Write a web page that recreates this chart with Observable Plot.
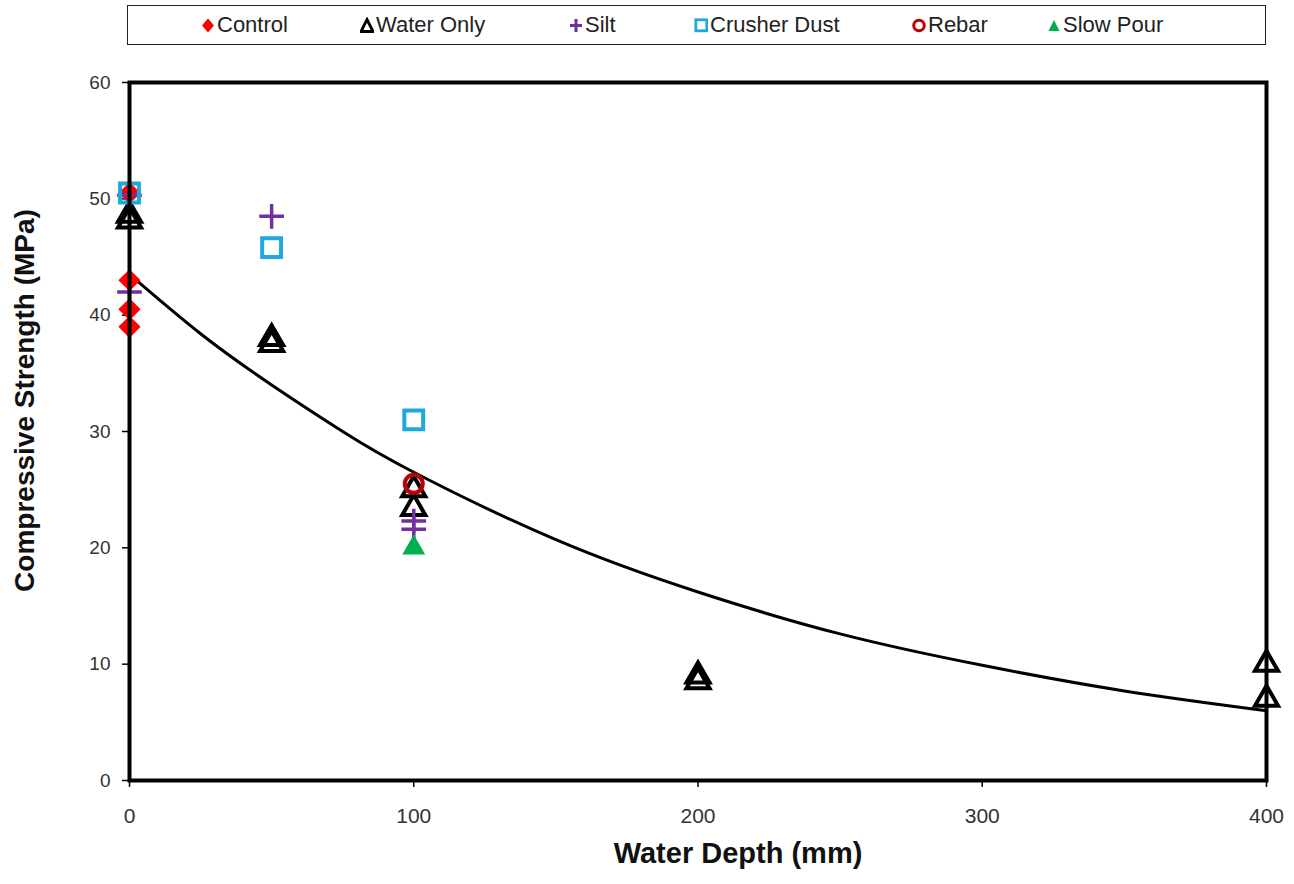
<!DOCTYPE html>
<html>
<head>
<meta charset="utf-8">
<script src="https://cdn.jsdelivr.net/npm/d3@7"></script>
<script src="https://cdn.jsdelivr.net/npm/@observablehq/plot@0.6"></script>
<style>
  html, body { margin: 0; padding: 0; background: #fff; }
  body { width: 1294px; height: 884px; position: relative; overflow: hidden; font-family: "Liberation Sans", Arial, sans-serif; }
  #legend { position: absolute; left: 127px; top: 5px; width: 1137px; height: 38px; border: 1.5px solid #222; box-sizing: content-box; }
  .item { position: absolute; top: 0; height: 38px; display: flex; align-items: center; font-size: 22px; color: #222; font-family: "Liberation Sans", Arial, sans-serif; }
  .item svg { margin-right: 2px; }
  #chart { position: absolute; left: 0; top: 50px; }
</style>
</head>
<body>
<div id="legend"></div>
<div id="chart"></div>
<script>
// ---- data ----
const seriesNames = ["Control", "Water Only", "Silt", "Crusher Dust", "Rebar", "Slow Pour"];

const controlDepth = [0, 0, 0, 0];
const controlStrength = [50.5, 43, 40.5, 39];

const waterDepth = [0, 0, 50, 50, 100, 100, 200, 200, 400, 400];
const waterStrength = [48.6, 48.1, 38, 37.5, 25, 23.4, 9, 8.5, 10, 7];

const siltDepth = [0, 0, 50, 100, 100];
const siltStrength = [50.3, 42, 48.5, 22.3, 21.6];

const dustDepth = [0, 50, 100];
const dustStrength = [50.5, 45.8, 31];

const rebarDepth = [100];
const rebarStrength = [25.5];

const slowDepth = [100];
const slowStrength = [20];

// trendline
const trendDepth = [0, 25, 50, 75, 100, 150, 200, 250, 300, 350, 400];
const trendStrength = [43.5, 38.4, 34, 30, 26.5, 20.7, 16.2, 12.6, 9.9, 7.7, 6.0];

const xTicks = [0, 100, 200, 300, 400];
const yTicks = [0, 10, 20, 30, 40, 50, 60];

// ---- build tables ----
const zip = (xs, ys) => xs.map((x, i) => ({x, y: ys[i]}));
const control = zip(controlDepth, controlStrength);
const water = zip(waterDepth, waterStrength);
const silt = zip(siltDepth, siltStrength);
const dust = zip(dustDepth, dustStrength);
const rebar = zip(rebarDepth, rebarStrength);
const slow = zip(slowDepth, slowStrength);
const trend = zip(trendDepth, trendStrength);

const colors = {
  control: "#ff0000",
  water: "#000000",
  silt: "#7030a0",
  dust: "#1fa8dc",
  rebar: "#c00000",
  slow: "#00b050"
};

const chart = Plot.plot({
  width: 1294,
  height: 834,
  marginLeft: 129,
  marginRight: 28,
  marginTop: 32,
  marginBottom: 104,
  style: { fontFamily: "Liberation Sans, Arial, sans-serif", background: "#fff" },
  x: { domain: [0, 400] },
  y: { domain: [0, 60] },
  marks: [
    Plot.axisY({ ticks: yTicks, tickSize: 7, tickPadding: 12, fontSize: 19, stroke: "#000", strokeWidth: 1.5, color: "#333", label: null }),
    Plot.axisX({ ticks: xTicks, tickSize: 7, tickPadding: 21, fontSize: 21, stroke: "#000", strokeWidth: 1.5, color: "#333", label: null }),
    Plot.line(trend, { x: "x", y: "y", curve: "natural", stroke: "#000", strokeWidth: 3 }),
    Plot.dot(control, { x: "x", y: "y", symbol: "diamond2", r: 10, fill: colors.control, stroke: "none" }),
    Plot.dot(water, { x: "x", y: "y", symbol: "triangle2", r: 11, stroke: colors.water, strokeWidth: 4, fill: "none" }),
    Plot.dot(silt, { x: "x", y: "y", symbol: "plus", r: 8, stroke: colors.silt, strokeWidth: 3.5, fill: "none" }),
    Plot.dot(dust, { x: "x", y: "y", symbol: "square2", r: 12, stroke: colors.dust, strokeWidth: 4, fill: "none" }),
    Plot.dot(rebar, { x: "x", y: "y", symbol: "circle", r: 9, stroke: colors.rebar, strokeWidth: 4, fill: "none" }),
    Plot.dot(slow, { x: "x", y: "y", symbol: "triangle", r: 8.5, fill: colors.slow, stroke: "none" }),
    Plot.frame({ stroke: "#000", strokeWidth: 4 }),
    Plot.text(["Water Depth (mm)"], { frameAnchor: "bottom", dx: 40, dy: 82, fontSize: 29, fontWeight: "bold", fill: "#111" }),
    Plot.text(["Compressive Strength (MPa)"], { frameAnchor: "left", textAnchor: "middle", dx: -104, dy: -31, rotate: -90, fontSize: 28, fontWeight: "bold", fill: "#111" })
  ]
});
document.getElementById("chart").appendChild(chart);

// ---- legend ----
const legendItems = [
  { name: seriesNames[0], left: 200, sym: '<path d="M7 1.5 L13 8.5 L7 15.5 L1 8.5 Z" fill="#ff0000"/>' },
  { name: seriesNames[1], left: 359, sym: '<path d="M7 2.5 L13 14.5 L1 14.5 Z" fill="none" stroke="#000" stroke-width="2.8"/>' },
  { name: seriesNames[2], left: 568, sym: '<path d="M7 2 V15 M1 8.5 H13" stroke="#7030a0" stroke-width="3"/>' },
  { name: seriesNames[3], left: 693, sym: '<rect x="1.8" y="2.8" width="11" height="11" fill="none" stroke="#1fa8dc" stroke-width="2.8"/>' },
  { name: seriesNames[4], left: 911, sym: '<circle cx="7" cy="8.5" r="5.3" fill="none" stroke="#c00000" stroke-width="3"/>' },
  { name: seriesNames[5], left: 1046, sym: '<path d="M7 3 L12.5 14 L1.5 14 Z" fill="#00b050"/>' }
];
const legend = document.getElementById("legend");
for (const it of legendItems) {
  const d = document.createElement("div");
  d.className = "item";
  d.style.left = (it.left - 127) + "px";
  d.innerHTML = `<svg width="14" height="17" viewBox="0 0 14 17">${it.sym}</svg><span>${it.name}</span>`;
  legend.appendChild(d);
}
</script>
</body>
</html>
